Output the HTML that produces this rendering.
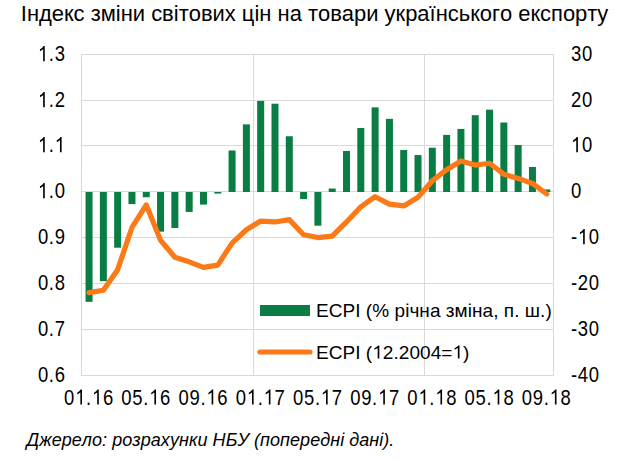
<!DOCTYPE html>
<html><head><meta charset="utf-8"><style>
html,body{margin:0;padding:0;background:#fff;width:629px;height:461px;overflow:hidden}
svg{display:block}
text{font-family:"Liberation Sans",sans-serif;fill:#000;font-kerning:none}
path{fill:#000}
.ax{font-size:22.0px;letter-spacing:0.85px}
.lg{font-size:19.0px;letter-spacing:0.05px}
.ti{font-size:21.95px}
.src{font-size:18px;font-style:italic;letter-spacing:0.05px}
</style></head><body>
<svg width="629" height="461" viewBox="0 0 629 461">
<text x="20.8" y="20.5" class="ti">Індекс зміни світових цін на товари українського експорту</text>
<rect x="82" y="100" width="471" height="1" fill="#d9d9d9"/>
<rect x="82" y="145" width="471" height="1" fill="#d9d9d9"/>
<rect x="82" y="191" width="471" height="1" fill="#d9d9d9"/>
<rect x="82" y="237" width="471" height="1" fill="#d9d9d9"/>
<rect x="82" y="283" width="471" height="1" fill="#d9d9d9"/>
<rect x="82" y="329" width="471" height="1" fill="#d9d9d9"/>
<rect x="253" y="55" width="1" height="320" fill="#d9d9d9"/>
<rect x="424" y="55" width="1" height="320" fill="#d9d9d9"/>
<rect x="81.5" y="54.5" width="472" height="321" fill="none" stroke="#d9d9d9" stroke-width="1"/>
<rect x="85.55" y="192.00" width="7.0" height="109.81" fill="#0a7d45"/>
<rect x="99.85" y="192.00" width="7.0" height="89.17" fill="#0a7d45"/>
<rect x="114.16" y="192.00" width="7.0" height="55.70" fill="#0a7d45"/>
<rect x="128.46" y="192.00" width="7.0" height="12.13" fill="#0a7d45"/>
<rect x="142.76" y="192.00" width="7.0" height="5.25" fill="#0a7d45"/>
<rect x="157.07" y="192.00" width="7.0" height="39.65" fill="#0a7d45"/>
<rect x="171.37" y="192.00" width="7.0" height="35.98" fill="#0a7d45"/>
<rect x="185.67" y="192.00" width="7.0" height="19.93" fill="#0a7d45"/>
<rect x="199.98" y="192.00" width="7.0" height="12.59" fill="#0a7d45"/>
<rect x="214.28" y="192.00" width="7.0" height="1.58" fill="#0a7d45"/>
<rect x="228.58" y="150.48" width="7.0" height="41.52" fill="#0a7d45"/>
<rect x="242.88" y="124.34" width="7.0" height="67.66" fill="#0a7d45"/>
<rect x="257.19" y="100.95" width="7.0" height="91.05" fill="#0a7d45"/>
<rect x="271.49" y="103.70" width="7.0" height="88.30" fill="#0a7d45"/>
<rect x="285.79" y="136.26" width="7.0" height="55.74" fill="#0a7d45"/>
<rect x="300.10" y="192.00" width="7.0" height="7.09" fill="#0a7d45"/>
<rect x="314.40" y="192.00" width="7.0" height="33.68" fill="#0a7d45"/>
<rect x="328.70" y="188.54" width="7.0" height="3.46" fill="#0a7d45"/>
<rect x="343.01" y="150.94" width="7.0" height="41.06" fill="#0a7d45"/>
<rect x="357.31" y="128.01" width="7.0" height="63.99" fill="#0a7d45"/>
<rect x="371.61" y="107.37" width="7.0" height="84.63" fill="#0a7d45"/>
<rect x="385.92" y="118.84" width="7.0" height="73.16" fill="#0a7d45"/>
<rect x="400.22" y="150.02" width="7.0" height="41.98" fill="#0a7d45"/>
<rect x="414.52" y="155.06" width="7.0" height="36.94" fill="#0a7d45"/>
<rect x="428.82" y="147.73" width="7.0" height="44.27" fill="#0a7d45"/>
<rect x="443.13" y="134.89" width="7.0" height="57.11" fill="#0a7d45"/>
<rect x="457.43" y="128.93" width="7.0" height="63.07" fill="#0a7d45"/>
<rect x="471.73" y="115.17" width="7.0" height="76.83" fill="#0a7d45"/>
<rect x="486.04" y="109.67" width="7.0" height="82.33" fill="#0a7d45"/>
<rect x="500.34" y="122.51" width="7.0" height="69.49" fill="#0a7d45"/>
<rect x="514.64" y="144.98" width="7.0" height="47.02" fill="#0a7d45"/>
<rect x="528.95" y="166.99" width="7.0" height="25.01" fill="#0a7d45"/>
<rect x="543.25" y="189.46" width="7.0" height="2.54" fill="#0a7d45"/>
<polyline points="89.05,292.58 103.35,290.28 117.66,269.65 131.96,227.46 146.26,204.99 160.57,240.30 174.87,257.27 189.17,261.85 203.48,267.36 217.78,265.06 232.08,243.05 246.38,229.75 260.69,221.04 274.99,221.96 289.29,219.66 303.60,234.80 317.90,237.55 332.20,236.17 346.51,221.96 360.81,206.82 375.11,196.74 389.42,204.07 403.72,205.91 418.02,197.19 432.32,180.69 446.63,169.68 460.93,160.97 475.23,165.09 489.54,163.26 503.84,174.27 518.14,178.39 532.45,183.44 546.75,193.98" fill="none" stroke="#fc7917" stroke-width="5.2" stroke-linejoin="round" stroke-linecap="round"/>
<g transform="translate(37.88,61.20) scale(0.84,1)"><text x="0" y="0" class="ax"> .3</text><path d="M8.20,0.00 L6.26,0.00 L6.26,-12.03 L2.48,-9.99 L2.48,-11.92 L4.51,-13.05 L6.02,-14.29 L6.83,-15.14 L8.20,-15.14Z"/></g>
<g transform="translate(37.88,107.20) scale(0.84,1)"><text x="0" y="0" class="ax"> .2</text><path d="M8.20,0.00 L6.26,0.00 L6.26,-12.03 L2.48,-9.99 L2.48,-11.92 L4.51,-13.05 L6.02,-14.29 L6.83,-15.14 L8.20,-15.14Z"/></g>
<g transform="translate(37.88,152.20) scale(0.84,1)"><text x="0" y="0" class="ax"> . </text><path d="M8.20,0.00 L6.26,0.00 L6.26,-12.03 L2.48,-9.99 L2.48,-11.92 L4.51,-13.05 L6.02,-14.29 L6.83,-15.14 L8.20,-15.14Z M28.24,0.00 L26.31,0.00 L26.31,-12.03 L22.53,-9.99 L22.53,-11.92 L24.56,-13.05 L26.06,-14.29 L26.88,-15.14 L28.24,-15.14Z"/></g>
<g transform="translate(37.88,198.20) scale(0.84,1)"><text x="0" y="0" class="ax"> .0</text><path d="M8.20,0.00 L6.26,0.00 L6.26,-12.03 L2.48,-9.99 L2.48,-11.92 L4.51,-13.05 L6.02,-14.29 L6.83,-15.14 L8.20,-15.14Z"/></g>
<g transform="translate(37.88,244.20) scale(0.84,1)"><text x="0" y="0" class="ax">0.9</text></g>
<g transform="translate(37.88,290.20) scale(0.84,1)"><text x="0" y="0" class="ax">0.8</text></g>
<g transform="translate(37.88,336.20) scale(0.84,1)"><text x="0" y="0" class="ax">0.7</text></g>
<g transform="translate(37.88,382.20) scale(0.84,1)"><text x="0" y="0" class="ax">0.6</text></g>
<g transform="translate(571.00,61.20) scale(0.84,1)"><text x="0" y="0" class="ax">30</text></g>
<g transform="translate(571.00,107.20) scale(0.84,1)"><text x="0" y="0" class="ax">20</text></g>
<g transform="translate(571.00,152.20) scale(0.84,1)"><text x="0" y="0" class="ax"> 0</text><path d="M8.20,0.00 L6.26,0.00 L6.26,-12.03 L2.48,-9.99 L2.48,-11.92 L4.51,-13.05 L6.02,-14.29 L6.83,-15.14 L8.20,-15.14Z"/></g>
<g transform="translate(571.00,198.20) scale(0.84,1)"><text x="0" y="0" class="ax">0</text></g>
<g transform="translate(571.00,244.20) scale(0.84,1)"><text x="0" y="0" class="ax">- 0</text><path d="M16.37,0.00 L14.44,0.00 L14.44,-12.03 L10.66,-9.99 L10.66,-11.92 L12.69,-13.05 L14.19,-14.29 L15.01,-15.14 L16.37,-15.14Z"/></g>
<g transform="translate(571.00,290.20) scale(0.84,1)"><text x="0" y="0" class="ax">-20</text></g>
<g transform="translate(571.00,336.20) scale(0.84,1)"><text x="0" y="0" class="ax">-30</text></g>
<g transform="translate(571.00,382.20) scale(0.84,1)"><text x="0" y="0" class="ax">-40</text></g>
<g transform="translate(64.10,404.60) scale(0.84,1)"><text x="0" y="0" class="ax">0 . 6</text><path d="M21.28,0.00 L19.35,0.00 L19.35,-12.03 L15.57,-9.99 L15.57,-11.92 L17.60,-13.05 L19.10,-14.29 L19.92,-15.14 L21.28,-15.14Z M41.33,0.00 L39.40,0.00 L39.40,-12.03 L35.61,-9.99 L35.61,-11.92 L37.64,-13.05 L39.15,-14.29 L39.97,-15.14 L41.33,-15.14Z"/></g>
<g transform="translate(121.31,404.60) scale(0.84,1)"><text x="0" y="0" class="ax">05. 6</text><path d="M41.33,0.00 L39.40,0.00 L39.40,-12.03 L35.61,-9.99 L35.61,-11.92 L37.64,-13.05 L39.15,-14.29 L39.97,-15.14 L41.33,-15.14Z"/></g>
<g transform="translate(178.53,404.60) scale(0.84,1)"><text x="0" y="0" class="ax">09. 6</text><path d="M41.33,0.00 L39.40,0.00 L39.40,-12.03 L35.61,-9.99 L35.61,-11.92 L37.64,-13.05 L39.15,-14.29 L39.97,-15.14 L41.33,-15.14Z"/></g>
<g transform="translate(235.74,404.60) scale(0.84,1)"><text x="0" y="0" class="ax">0 . 7</text><path d="M21.28,0.00 L19.35,0.00 L19.35,-12.03 L15.57,-9.99 L15.57,-11.92 L17.60,-13.05 L19.10,-14.29 L19.92,-15.14 L21.28,-15.14Z M41.33,0.00 L39.40,0.00 L39.40,-12.03 L35.61,-9.99 L35.61,-11.92 L37.64,-13.05 L39.15,-14.29 L39.97,-15.14 L41.33,-15.14Z"/></g>
<g transform="translate(292.95,404.60) scale(0.84,1)"><text x="0" y="0" class="ax">05. 7</text><path d="M41.33,0.00 L39.40,0.00 L39.40,-12.03 L35.61,-9.99 L35.61,-11.92 L37.64,-13.05 L39.15,-14.29 L39.97,-15.14 L41.33,-15.14Z"/></g>
<g transform="translate(350.16,404.60) scale(0.84,1)"><text x="0" y="0" class="ax">09. 7</text><path d="M41.33,0.00 L39.40,0.00 L39.40,-12.03 L35.61,-9.99 L35.61,-11.92 L37.64,-13.05 L39.15,-14.29 L39.97,-15.14 L41.33,-15.14Z"/></g>
<g transform="translate(407.37,404.60) scale(0.84,1)"><text x="0" y="0" class="ax">0 . 8</text><path d="M21.28,0.00 L19.35,0.00 L19.35,-12.03 L15.57,-9.99 L15.57,-11.92 L17.60,-13.05 L19.10,-14.29 L19.92,-15.14 L21.28,-15.14Z M41.33,0.00 L39.40,0.00 L39.40,-12.03 L35.61,-9.99 L35.61,-11.92 L37.64,-13.05 L39.15,-14.29 L39.97,-15.14 L41.33,-15.14Z"/></g>
<g transform="translate(464.59,404.60) scale(0.84,1)"><text x="0" y="0" class="ax">05. 8</text><path d="M41.33,0.00 L39.40,0.00 L39.40,-12.03 L35.61,-9.99 L35.61,-11.92 L37.64,-13.05 L39.15,-14.29 L39.97,-15.14 L41.33,-15.14Z"/></g>
<g transform="translate(521.80,404.60) scale(0.84,1)"><text x="0" y="0" class="ax">09. 8</text><path d="M41.33,0.00 L39.40,0.00 L39.40,-12.03 L35.61,-9.99 L35.61,-11.92 L37.64,-13.05 L39.15,-14.29 L39.97,-15.14 L41.33,-15.14Z"/></g>
<rect x="260" y="305" width="50" height="11" fill="#0a7d45"/>
<line x1="260" y1="352" x2="310" y2="352" stroke="#fc7917" stroke-width="5.2" stroke-linecap="round"/>
<g transform="translate(316.00,316.50) scale(1.0,1)"><text x="0" y="0" class="lg">ECPI (% річна зміна, п. ш.)</text></g>
<g transform="translate(316.00,358.50) scale(1.0,1)"><text x="0" y="0" class="lg">ECPI ( 2.2004= )</text><path d="M63.33,0.00 L61.66,0.00 L61.66,-10.39 L58.39,-8.63 L58.39,-10.30 L60.15,-11.27 L61.45,-12.34 L62.15,-13.07 L63.33,-13.07Z M143.51,0.00 L141.84,0.00 L141.84,-10.39 L138.57,-8.63 L138.57,-10.30 L140.32,-11.27 L141.62,-12.34 L142.33,-13.07 L143.51,-13.07Z"/></g>
<text x="26.5" y="446.3" class="src">Джерело: розрахунки НБУ (попередні дані).</text>
</svg>
</body></html>
